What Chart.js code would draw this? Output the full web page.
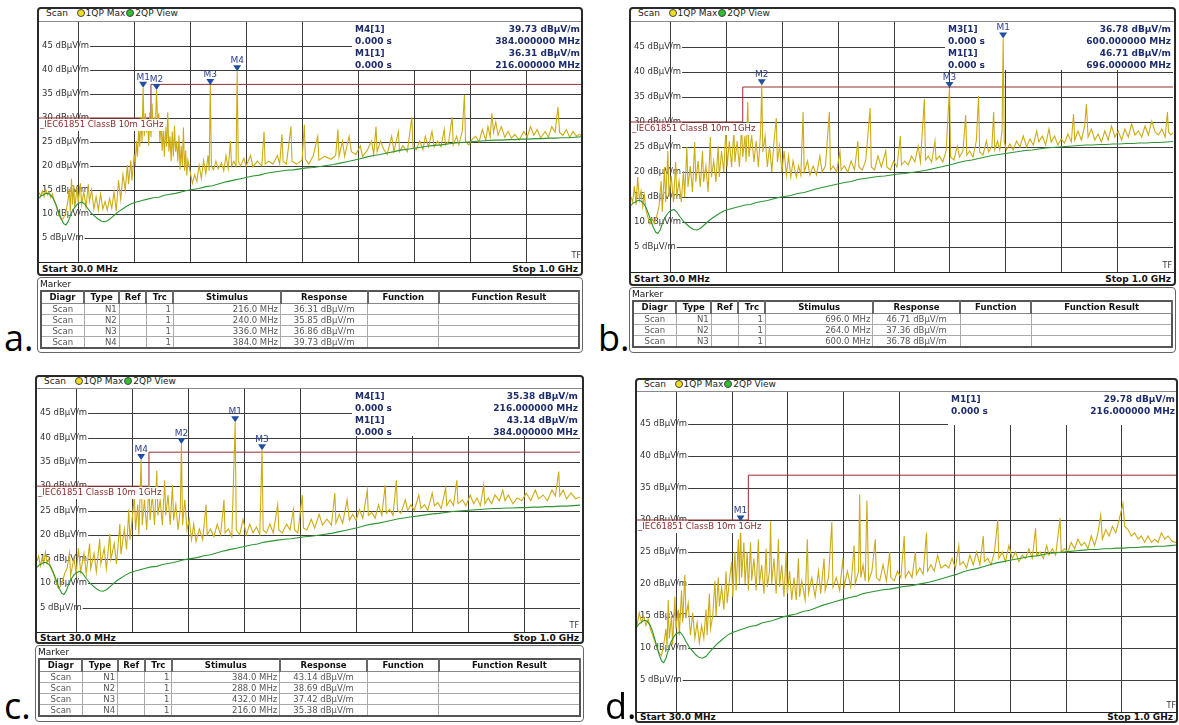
<!DOCTYPE html>
<html>
<head>
<meta charset="utf-8">
<script src="https://cdn.jsdelivr.net/npm/chart.js@4.4.1/dist/chart.umd.min.js"></script>
<style>
body{margin:0;width:1179px;height:725px;background:#fff;position:relative;overflow:hidden;font-family:"DejaVu Sans",Verdana,sans-serif;}
.abs{position:absolute;box-sizing:border-box;}
.frame{border:2px solid #2a2a2a;border-radius:4px;pointer-events:none;}
.hdr{font-size:9px;color:#222;border-bottom:1px solid #8a8a8a;white-space:nowrap;}
.dot{display:inline-block;width:6px;height:6px;border-radius:50%;border:1px solid #444;vertical-align:-1px;margin:0 1px 0 3px;}
.ftr{font-size:9px;font-weight:bold;color:#111;border-top:1px solid #222;}
.ftr span{position:absolute;top:0;}
.mbox{border:1px solid #666;border-radius:4px;}
.mtitle{position:absolute;left:2px;top:1px;font-size:9px;line-height:11px;color:#111;}
.mbox table{position:absolute;left:2px;border-collapse:collapse;table-layout:fixed;font-size:8.5px;border:2px solid #555;}
.mbox th{font-weight:bold;line-height:11px;padding:0;color:#111;text-align:center;border-right:2px solid #666;border-bottom:1px solid #888;}
.mbox td{line-height:10px;padding:0 2px;color:#555;border:1px solid #aaa;white-space:nowrap;overflow:hidden;}
.letter{font-family:"Open Sans",sans-serif;font-size:36px;line-height:36px;color:#000;}
</style>
</head>
<body>
<script>
// sweep range and grid
const freqStart = 30, freqStop = 1000;
const levelTicks = [5, 10, 15, 20, 25, 30, 35, 40, 45];
const gridFreqs = [100, 200, 300, 400, 500, 600, 700, 800, 900];

// IEC61851 ClassB 10m limit line [MHz, dBµV/m]
const limitLine = [[30, 30], [230, 30], [230, 37], [1000, 37]];

// 2QP View trace (green), same in every plot
const viewTrace = [[30,13.3],[34,13.8],[38,14.0],[42,14.3],[46,14.3],[50,14.0],[54,13.5],[58,12.6],[62,11.4],[66,10.1],[70,8.9],[74,8.0],[78,7.7],[82,8.4],[86,9.6],[90,10.7],[95,11.6],[100,12.2],[107,12.5],[112,12.0],[118,11.0],[124,10.1],[130,9.5],[136,8.9],[142,8.5],[148,8.4],[154,8.7],[160,9.3],[166,9.9],[172,10.5],[180,11.1],[188,11.7],[196,12.2],[204,12.5],[214,12.8],[224,13.1],[234,13.4],[244,13.5],[254,13.9],[264,14.1],[274,14.3],[284,14.6],[294,14.9],[304,15.1],[316,15.3],[328,15.7],[340,15.9],[352,16.3],[364,16.7],[376,17.0],[388,17.3],[400,17.6],[412,17.9],[424,18.1],[436,18.5],[448,18.7],[460,18.9],[472,19.1],[484,19.2],[496,19.4],[508,19.6],[520,19.7],[532,19.9],[544,20.1],[556,20.3],[568,20.6],[580,20.9],[592,21.2],[604,21.5],[616,21.9],[628,22.2],[640,22.4],[652,22.7],[664,23.0],[676,23.3],[688,23.5],[700,23.7],[712,23.9],[724,24.1],[736,24.3],[748,24.4],[760,24.6],[772,24.8],[784,24.9],[796,25.0],[808,25.1],[820,25.2],[832,25.3],[844,25.4],[856,25.4],[868,25.5],[880,25.5],[892,25.6],[904,25.6],[916,25.7],[928,25.7],[940,25.8],[952,25.8],[964,25.9],[976,25.9],[988,26.0],[1000,26.1]];

// 1QP Max traces (yellow) [MHz, dBµV/m]
const scanA = [[30,14.5],[33,13.8],[36,14.8],[39,13.6],[42,15.2],[45,14.0],[48,14.6],[51,13.4],[54,14.2],[57,12.8],[60,12.0],[63,10.8],[66,9.6],[70,8.8],[74,9.2],[78,10.4],[82,13.0],[84,15.2],[86,10.6],[88,17.4],[90,12.0],[92,16.0],[94,11.2],[98,15.6],[100,12.4],[104,16.4],[106,12.0],[110,14.6],[114,11.4],[118,16.2],[120,12.6],[124,15.0],[128,11.0],[132,13.6],[136,10.8],[140,14.2],[144,11.0],[148,12.6],[152,10.8],[156,13.2],[160,11.2],[164,14.6],[168,10.6],[172,17.0],[176,13.0],[180,18.2],[184,15.0],[188,20.2],[190,16.2],[194,21.2],[196,17.0],[200,22.4],[202,20.0],[204,25.2],[206,22.0],[208,28.0],[210,24.0],[212,30.2],[214,25.0],[216,36.31],[218,26.2],[220,31.0],[222,27.0],[224,29.6],[226,24.2],[228,31.2],[230,26.0],[232,33.0],[234,27.2],[236,30.2],[238,28.0],[240,35.85],[242,28.2],[244,31.0],[246,25.0],[248,29.4],[250,23.2],[252,27.4],[254,22.0],[256,28.2],[258,24.0],[260,31.2],[262,23.0],[264,26.2],[266,21.0],[268,27.2],[270,22.0],[272,28.4],[274,23.0],[276,25.2],[278,21.0],[280,26.4],[282,19.2],[284,24.2],[286,20.0],[288,28.0],[290,19.0],[292,23.2],[294,18.0],[296,21.2],[300,18.8],[304,16.4],[308,18.2],[312,16.8],[316,20.2],[320,17.4],[324,21.2],[328,18.4],[332,22.2],[334,19.0],[336,36.86],[338,20.0],[342,19.2],[346,21.0],[350,19.4],[356,20.6],[360,19.0],[364,22.2],[368,19.4],[372,25.2],[374,20.0],[378,21.0],[382,20.0],[384,39.73],[386,21.0],[390,20.0],[396,21.6],[400,20.0],[408,22.2],[412,19.8],[420,21.0],[428,20.0],[432,27.2],[434,20.4],[440,21.0],[448,20.4],[456,22.2],[460,20.4],[464,26.6],[466,21.0],[472,20.4],[480,28.2],[482,21.0],[490,20.4],[500,21.2],[504,28.6],[506,21.4],[512,20.4],[520,22.2],[528,26.2],[530,21.2],[540,22.0],[552,21.4],[560,22.2],[564,27.6],[566,22.0],[572,25.2],[576,22.0],[584,26.2],[588,23.0],[596,22.4],[604,24.2],[608,22.0],[616,23.2],[624,25.2],[628,22.4],[632,28.2],[634,23.0],[640,25.2],[646,23.4],[652,22.4],[660,26.2],[664,23.0],[672,27.2],[674,23.0],[680,24.2],[688,23.0],[696,30.2],[698,24.0],[704,23.4],[710,25.2],[716,23.4],[720,26.2],[726,24.0],[732,27.2],[736,24.0],[742,25.2],[748,24.0],[754,27.6],[756,24.4],[762,25.2],[768,30.2],[770,24.4],[776,26.2],[780,24.4],[786,27.2],[790,34.8],[792,25.0],[798,24.4],[804,25.6],[810,26.2],[816,25.0],[822,27.6],[828,25.4],[832,28.2],[836,26.0],[839,31.0],[842,27.0],[846,29.2],[850,26.4],[856,28.2],[862,26.0],[868,27.2],[874,25.8],[880,26.6],[888,25.4],[896,27.2],[902,26.0],[908,28.2],[914,26.4],[920,27.6],[926,25.8],[934,27.2],[940,26.0],[946,28.2],[952,27.0],[957,32.3],[960,27.0],[966,26.4],[972,27.6],[978,26.0],[984,27.2],[990,26.2],[996,26.6],[1000,26.2]];

const scanB = [[30,15.0],[33,14.0],[36,17.2],[39,13.4],[42,19.0],[45,14.4],[48,16.2],[51,13.0],[54,15.4],[57,12.2],[60,11.0],[64,9.6],[68,10.6],[72,9.8],[76,11.2],[80,13.0],[84,18.2],[86,12.0],[90,21.0],[92,14.0],[96,24.2],[98,15.0],[102,19.2],[106,14.0],[110,22.0],[112,15.0],[116,18.2],[120,14.0],[124,20.2],[126,15.0],[130,25.0],[132,17.0],[136,21.2],[140,16.0],[144,26.0],[146,18.0],[150,22.2],[154,17.0],[158,24.2],[160,18.0],[164,21.2],[168,16.0],[172,27.0],[174,19.0],[178,22.2],[182,18.0],[186,25.2],[188,19.0],[192,24.2],[196,20.0],[200,29.0],[202,21.0],[206,26.2],[210,21.0],[214,28.2],[216,22.0],[220,26.2],[224,21.0],[228,29.0],[230,23.0],[234,27.2],[236,22.0],[239,34.0],[241,23.0],[246,27.2],[250,22.0],[254,26.2],[258,21.0],[262,28.2],[264,37.36],[266,24.0],[270,27.2],[274,21.0],[278,25.2],[282,20.0],[286,26.2],[290,30.8],[292,22.0],[296,25.2],[300,20.0],[304,24.2],[308,19.4],[312,23.2],[316,19.0],[320,22.2],[326,19.0],[330,21.2],[334,19.4],[338,32.0],[340,20.0],[346,22.2],[350,19.4],[356,21.2],[362,19.4],[368,23.2],[372,20.0],[378,21.2],[385,32.0],[387,20.4],[392,21.2],[398,20.0],[404,24.2],[406,20.4],[412,21.2],[418,20.0],[424,22.2],[430,20.4],[436,26.2],[438,21.0],[444,20.4],[450,22.2],[458,32.8],[460,21.0],[466,20.4],[472,23.2],[478,21.0],[486,24.2],[488,21.0],[494,20.4],[500,22.2],[506,21.0],[512,27.2],[514,21.4],[520,22.2],[526,21.4],[532,23.2],[538,22.0],[544,25.2],[548,22.0],[555,34.6],[557,22.4],[562,23.2],[568,22.0],[574,26.2],[576,22.4],[582,23.2],[588,22.0],[594,24.2],[600,36.78],[602,23.0],[608,22.4],[614,25.2],[618,23.0],[624,24.2],[629,31.4],[631,23.4],[636,24.2],[642,23.0],[648,26.2],[652,35.2],[654,24.0],[660,23.4],[666,26.2],[670,24.0],[676,25.2],[679,32.0],[681,24.4],[686,26.2],[690,24.4],[694,28.2],[696,46.71],[698,26.0],[702,24.4],[708,25.6],[714,24.4],[720,26.2],[726,25.0],[732,27.2],[738,25.0],[744,26.6],[750,25.4],[756,28.2],[760,26.0],[766,27.2],[772,25.4],[778,28.6],[782,26.0],[788,27.2],[794,25.4],[800,26.6],[806,25.8],[812,27.6],[818,26.0],[822,31.6],[824,26.4],[830,28.2],[836,26.4],[842,29.2],[845,33.6],[848,27.0],[854,28.6],[860,26.4],[866,27.6],[872,26.0],[878,28.2],[884,26.4],[890,29.2],[896,27.0],[902,28.2],[908,26.4],[914,28.6],[920,27.0],[926,29.6],[932,27.4],[938,28.2],[944,27.0],[950,29.2],[956,27.4],[962,30.2],[968,28.0],[974,27.4],[980,28.6],[986,27.0],[990,32.0],[992,28.0],[996,27.4],[1000,27.8]];

const scanC = [[30,14.6],[33,15.6],[36,13.6],[39,15.2],[42,14.0],[45,16.4],[48,14.2],[51,15.0],[54,13.4],[57,12.6],[60,11.8],[64,10.2],[68,9.0],[72,9.4],[76,10.6],[80,12.2],[84,13.2],[88,16.2],[90,11.6],[96,15.2],[100,12.0],[104,17.2],[108,12.4],[114,16.2],[118,12.0],[124,18.2],[126,13.0],[132,16.2],[136,12.4],[142,19.2],[144,14.0],[150,17.2],[154,13.0],[160,20.2],[162,15.0],[168,18.2],[172,14.0],[178,22.2],[180,16.0],[186,21.2],[190,17.0],[194,25.2],[196,19.0],[200,23.2],[204,28.2],[206,21.0],[210,26.2],[212,20.0],[216,35.38],[218,22.0],[222,27.2],[226,21.0],[230,30.2],[232,23.0],[236,28.2],[240,22.0],[244,33.2],[246,24.0],[250,27.2],[254,22.0],[258,31.2],[260,24.0],[264,28.2],[268,22.0],[272,30.2],[274,23.0],[278,26.2],[282,21.0],[286,25.2],[288,38.69],[290,22.0],[294,27.2],[298,21.0],[302,23.2],[306,19.0],[310,22.2],[314,18.6],[320,21.2],[326,19.0],[332,26.2],[334,20.0],[340,21.2],[346,19.6],[352,22.2],[358,20.0],[364,27.2],[366,20.4],[372,21.2],[378,19.6],[384,43.14],[386,21.0],[392,20.0],[398,23.2],[404,20.0],[410,22.2],[416,20.4],[422,21.6],[428,20.0],[432,37.42],[434,21.0],[440,20.4],[446,22.2],[452,20.4],[460,26.2],[462,21.0],[468,20.4],[476,22.2],[482,21.0],[488,25.2],[490,21.0],[496,20.4],[504,28.2],[506,21.4],[512,21.0],[520,23.2],[526,21.4],[534,24.2],[540,22.0],[548,23.2],[556,22.0],[562,28.6],[564,22.4],[570,24.2],[576,22.4],[584,27.2],[588,23.0],[594,24.2],[600,23.0],[606,25.2],[612,23.4],[620,29.2],[622,24.0],[628,24.6],[634,23.4],[640,26.2],[646,24.0],[652,30.2],[654,24.4],[660,25.2],[666,24.0],[672,31.2],[674,25.0],[680,24.4],[688,27.2],[692,25.0],[698,26.2],[704,25.0],[712,28.2],[716,25.4],[722,26.2],[728,25.0],[736,28.6],[740,26.0],[746,26.6],[752,25.4],[760,29.6],[762,26.0],[768,27.2],[774,26.0],[780,31.2],[782,26.4],[790,27.2],[796,26.0],[804,28.2],[810,26.4],[816,27.6],[822,26.0],[828,30.2],[830,26.4],[836,27.6],[842,26.4],[848,28.2],[856,27.0],[862,29.2],[866,27.0],[872,28.2],[880,26.4],[888,27.6],[896,27.0],[904,28.6],[912,27.0],[920,29.2],[926,27.4],[934,28.2],[942,27.0],[950,29.2],[956,28.0],[962,33.0],[964,28.0],[970,29.2],[976,27.4],[984,28.6],[992,27.4],[1000,27.8]];

const scanD = [[30,13.5],[34,15.5],[38,14.0],[42,15.0],[46,13.5],[50,14.5],[54,13.0],[58,12.0],[62,11.0],[66,10.0],[70,9.2],[74,8.8],[78,10.5],[82,13.0],[84,10.0],[86,17.5],[88,11.5],[92,15.0],[94,10.5],[98,18.0],[100,13.0],[104,16.0],[106,12.0],[110,19.0],[112,14.0],[116,21.4],[118,15.0],[122,17.0],[126,12.0],[130,15.5],[134,11.5],[138,14.0],[142,10.8],[146,13.5],[150,11.5],[154,16.0],[156,12.0],[160,18.5],[162,13.0],[166,15.0],[170,20.5],[172,15.0],[176,21.0],[178,16.5],[182,19.5],[186,16.0],[190,22.0],[192,17.0],[196,20.5],[200,23.5],[202,18.0],[206,25.0],[208,19.0],[212,27.0],[214,20.0],[216,29.78],[218,21.0],[222,26.5],[224,20.0],[228,25.0],[230,19.0],[234,26.5],[236,20.5],[240,24.0],[244,19.0],[248,27.0],[250,20.0],[254,23.0],[258,18.5],[262,25.5],[264,19.5],[268,22.0],[270,29.8],[272,20.0],[276,24.0],[280,18.5],[284,27.0],[286,19.5],[290,23.0],[294,18.0],[298,25.0],[300,18.5],[304,22.0],[308,17.5],[312,21.0],[316,17.5],[320,24.0],[322,18.0],[326,20.5],[332,17.5],[336,27.0],[338,18.5],[344,21.0],[350,18.0],[356,22.0],[360,18.5],[366,24.0],[368,19.0],[374,21.0],[380,29.7],[382,19.5],[388,21.0],[394,19.0],[400,24.0],[402,19.5],[408,22.0],[414,19.5],[420,26.0],[422,20.0],[428,22.0],[430,34.0],[432,21.0],[436,23.0],[440,20.5],[443,33.0],[446,20.5],[452,22.0],[458,27.0],[460,21.0],[466,20.5],[472,23.0],[478,20.5],[484,25.0],[486,21.0],[492,20.5],[498,22.0],[504,21.0],[510,27.5],[512,21.0],[518,22.0],[524,21.0],[530,25.0],[532,21.5],[538,22.5],[544,21.5],[550,28.0],[552,22.0],[558,23.0],[564,22.0],[570,24.5],[576,22.5],[584,23.0],[590,22.5],[596,24.0],[602,22.5],[608,26.0],[610,23.0],[616,23.5],[622,22.5],[628,24.5],[634,23.0],[640,25.0],[646,23.0],[652,27.5],[654,23.5],[660,24.0],[666,23.0],[672,25.0],[678,30.0],[680,24.0],[686,25.0],[692,23.5],[698,26.0],[704,24.0],[710,25.0],[716,23.5],[722,24.5],[728,24.0],[734,25.5],[740,24.0],[746,28.7],[748,24.5],[754,25.0],[760,24.0],[766,26.0],[770,24.5],[776,25.5],[782,24.5],[790,30.3],[792,25.0],[798,25.5],[804,25.0],[810,26.5],[816,25.5],[822,27.0],[828,26.0],[834,26.5],[840,25.5],[846,27.5],[852,26.0],[858,28.0],[863,30.8],[866,27.0],[872,28.5],[878,27.5],[884,29.0],[890,28.0],[896,30.0],[903,32.6],[906,29.0],[912,28.5],[918,27.5],[924,28.0],[930,27.0],[936,27.5],[942,26.5],[948,27.5],[954,26.5],[960,27.0],[966,26.5],[972,28.0],[978,27.0],[984,27.5],[990,26.8],[996,26.5],[1000,26.5]];

// markers [name, MHz, dBµV/m]
const markersA = [['M1', 216, 36.31], ['M2', 240, 35.85], ['M3', 336, 36.86], ['M4', 384, 39.73]];
const markersB = [['M1', 696, 46.71], ['M2', 264, 37.36], ['M3', 600, 36.78]];
const markersC = [['M1', 384, 43.14], ['M2', 288, 38.69], ['M3', 432, 37.42], ['M4', 216, 35.38]];
const markersD = [['M1', 216, 29.78]];

// which markers show up in the readout box
const readoutA = ['M4', 'M1'];
const readoutB = ['M3', 'M1'];
const readoutC = ['M4', 'M1'];
const readoutD = ['M1'];

const panels = [
  {scan: scanA, markers: markersA, readout: readoutA, letter: 'a.',
   frame: [37, 7, 583, 276], plot: [39, 22, 582, 262], table: [37, 277, 583, 353], letterPos: [4, 320], boxLeft: 313, boxBottom: 48},
  {scan: scanB, markers: markersB, readout: readoutB, letter: 'b.',
   frame: [629, 7, 1176, 286], plot: [631, 22, 1173, 272], table: [629, 287, 1176, 353], letterPos: [598, 320], boxLeft: 314, boxBottom: 48},
  {scan: scanC, markers: markersC, readout: readoutC, letter: 'c.',
   frame: [35, 375, 584, 644], plot: [37, 389, 580, 632], table: [35, 645, 584, 722], letterPos: [4, 688], boxLeft: 315, boxBottom: 47},
  {scan: scanD, markers: markersD, readout: readoutD, letter: 'd.',
   frame: [635, 378, 1178, 723], plot: [637, 392, 1177, 712], table: null, letterPos: [605, 688], boxLeft: 311, boxBottom: 33},
];

const colW = [43, 35, 27, 27, 107, 87, 71, 140]; // marker table column widths (of 537)

function place(tag, cls, l, t, w, h) {
  const e = document.createElement(tag);
  e.className = 'abs ' + cls;
  Object.assign(e.style, {left: l + 'px', top: t + 'px'});
  if (w != null) e.style.width = w + 'px';
  if (h != null) e.style.height = h + 'px';
  document.body.appendChild(e);
  return e;
}

function toXY(pairs) {
  return pairs.map(([x, y]) => ({x, y}));
}

function makeDecor(p) {
  return {
    id: 'decor',
    beforeDatasetsDraw(chart) {
      const {ctx, chartArea: a, scales: {x, y}} = chart;
      ctx.save();
      ctx.font = '8.5px "DejaVu Sans"';
      ctx.strokeStyle = '#3c3c3c';
      ctx.lineWidth = 1;
      ctx.beginPath();
      gridFreqs.forEach(f => {
        const px = Math.round(x.getPixelForValue(f)) + 0.5;
        ctx.moveTo(px, px > p.boxLeft ? p.boxBottom : a.top);
        ctx.lineTo(px, a.bottom);
      });
      levelTicks.forEach(v => {
        const py = Math.round(y.getPixelForValue(v)) + 0.5;
        const w = ctx.measureText(v + ' dBµV/m').width;
        ctx.moveTo(a.left + 4 + w, py);
        ctx.lineTo(py < p.boxBottom ? p.boxLeft : a.right, py);
      });
      ctx.stroke();
      ctx.fillStyle = '#333';
      ctx.textBaseline = 'middle';
      levelTicks.forEach(v => {
        ctx.fillText(v + ' dBµV/m', a.left + 3, Math.round(y.getPixelForValue(v)));
      });
      ctx.restore();
    },
    afterDatasetsDraw(chart) {
      const {ctx, chartArea: a, scales: {x, y}} = chart;
      ctx.save();
      // limit line label
      ctx.font = '8.5px "DejaVu Sans"';
      const ly = Math.round(y.getPixelForValue(limitLine[0][1]));
      const txt = '_IEC61851 ClassB 10m 1GHz';
      const tw = ctx.measureText(txt).width;
      ctx.fillStyle = '#fff';
      ctx.fillRect(a.left, ly + 1, tw + 3, 12);
      ctx.fillStyle = '#8c2b2b';
      ctx.textBaseline = 'middle';
      ctx.fillText(txt, a.left + 1, ly + 7);
      // markers
      ctx.font = '9px "DejaVu Sans"';
      ctx.textAlign = 'center';
      ctx.textBaseline = 'alphabetic';
      p.markers.forEach(([name, f, v]) => {
        const px = x.getPixelForValue(f), py = y.getPixelForValue(v);
        ctx.fillStyle = '#1f4f9e';
        ctx.beginPath();
        ctx.moveTo(px - 4, py - 6);
        ctx.lineTo(px + 4, py - 6);
        ctx.lineTo(px, py);
        ctx.closePath();
        ctx.fill();
        ctx.fillStyle = '#2c3f8c';
        ctx.fillText(name, px, py - 8);
      });
      // marker readout
      ctx.font = 'bold 9px "DejaVu Sans"';
      ctx.fillStyle = '#1d2c6c';
      ctx.textBaseline = 'middle';
      let row = 0;
      p.readout.forEach(name => {
        const [, f, v] = p.markers.find(m => m[0] === name);
        ctx.textAlign = 'left';
        ctx.fillText(name + '[1]', p.boxLeft + 3, 8 + row * 12);
        ctx.fillText('0.000 s', p.boxLeft + 3, 20 + row * 12);
        ctx.textAlign = 'right';
        ctx.fillText(v.toFixed(2) + ' dBµV/m', a.right - 2, 8 + row * 12);
        ctx.fillText(f.toFixed(6) + ' MHz', a.right - 2, 20 + row * 12);
        row += 2;
      });
      ctx.font = '8px "DejaVu Sans"';
      ctx.fillStyle = '#333';
      ctx.textAlign = 'right';
      ctx.fillText('TF', a.right - 1, a.bottom - 6);
      ctx.restore();
    }
  };
}

function buildPanel(p) {
  const [fl, ft, fr, fb] = p.frame;
  const [pl, pt, pr, pb] = p.plot;
  const fw = fr - fl;

  const hdr = place('div', 'hdr', fl, ft, fw, pt - ft);
  hdr.style.lineHeight = (pt - ft - 2) + 'px';
  hdr.style.paddingLeft = '9px';
  hdr.innerHTML = 'Scan&nbsp;&nbsp;<span class="dot" style="background:#f0e020"></span>1QP Max<span class="dot" style="background:#30c030;margin-left:1px"></span>2QP View';

  const cv = place('canvas', '', pl, pt);
  cv.width = pr - pl;
  cv.height = pb - pt;

  const ftr = place('div', 'ftr', fl, pb, fw, fb - pb);
  ftr.innerHTML = '<span style="left:5px;line-height:' + (fb - pb - 2) + 'px">Start 30.0 MHz</span>' +
                  '<span style="right:5px;line-height:' + (fb - pb - 2) + 'px">Stop 1.0 GHz</span>';

  place('div', 'frame', fl, ft, fw, fb - ft);

  const lt = place('div', 'letter', p.letterPos[0], p.letterPos[1]);
  lt.textContent = p.letter;

  if (p.table) {
    const [tl, tt, tr, tb] = p.table;
    const box = place('div', 'mbox', tl, tt, tr - tl, tb - tt);
    const tblW = tr - tl - 8;
    const scale = tblW / 537;
    const heads = ['Diagr', 'Type', 'Ref', 'Trc', 'Stimulus', 'Response', 'Function', 'Function Result'];
    let html = '<div class="mtitle">Marker</div><table style="top:12px;width:' + tblW + 'px"><colgroup>' +
      colW.map(w => '<col style="width:' + (w * scale).toFixed(1) + 'px">').join('') + '</colgroup><tr>' +
      heads.map(h => '<th>' + h + '</th>').join('') + '</tr>';
    p.markers.forEach(([name, f, v], i) => {
      html += '<tr><td style="text-align:center">Scan</td><td style="text-align:right">N' + (i + 1) +
        '</td><td></td><td style="text-align:right">1</td><td style="text-align:right">' + f.toFixed(1) +
        ' MHz</td><td style="text-align:center">' + v.toFixed(2) + ' dBµV/m</td><td></td><td></td></tr>';
    });
    box.innerHTML = html + '</table>';
  }

  new Chart(cv, {
    type: 'scatter',
    data: {
      datasets: [
        {data: toXY(viewTrace), borderColor: 'rgb(45,150,50)', borderWidth: 1.1, showLine: true, pointRadius: 0},
        {data: toXY(p.scan), borderColor: 'rgb(204,172,20)', borderWidth: 1.1, showLine: true, pointRadius: 0},
        {data: toXY(limitLine), borderColor: 'rgb(150,45,45)', borderWidth: 1, showLine: true, pointRadius: 0}
      ]
    },
    options: {
      responsive: false,
      animation: false,
      devicePixelRatio: 1,
      events: [],
      layout: {padding: 0},
      plugins: {legend: {display: false}, tooltip: {enabled: false}},
      scales: {
        x: {type: 'linear', min: freqStart, max: freqStop, display: false},
        y: {min: 0, max: 50, display: false}
      }
    },
    plugins: [makeDecor(p)]
  });
}

panels.forEach(buildPanel);
</script>
</body>
</html>
